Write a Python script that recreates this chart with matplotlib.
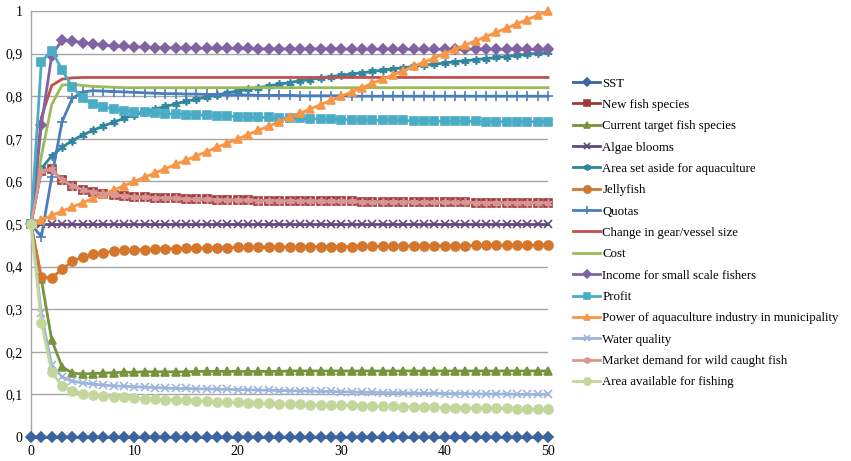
import numpy as np
import matplotlib
matplotlib.use('Agg')
import matplotlib.pyplot as plt
from matplotlib.ticker import FuncFormatter

# time steps
steps = list(range(51))

sst = [0.0] * 51
algae_blooms = [0.5] * 51

new_fish = [0.500, 0.625, 0.628, 0.603, 0.590, 0.580, 0.575, 0.571, 0.568, 0.566,
            0.564, 0.563, 0.562, 0.561, 0.560, 0.559, 0.558, 0.558, 0.557, 0.557,
            0.556, 0.556, 0.555, 0.555, 0.555, 0.554, 0.554, 0.554, 0.553, 0.553,
            0.553, 0.553, 0.552, 0.552, 0.552, 0.552, 0.552, 0.551, 0.551, 0.551,
            0.551, 0.551, 0.551, 0.550, 0.550, 0.550, 0.550, 0.550, 0.550, 0.550,
            0.550]
market_demand = list(new_fish)

current_target = [0.500, 0.370, 0.228, 0.165, 0.150, 0.148, 0.149, 0.150, 0.151, 0.152,
                  0.152, 0.153, 0.153, 0.153, 0.153, 0.153, 0.154, 0.154, 0.154, 0.154,
                  0.154, 0.154, 0.154, 0.154, 0.154, 0.155, 0.155, 0.155, 0.155, 0.155,
                  0.155, 0.155, 0.155, 0.155, 0.155, 0.155, 0.155, 0.155, 0.155, 0.155,
                  0.155, 0.155, 0.155, 0.155, 0.155, 0.155, 0.155, 0.155, 0.155, 0.155,
                  0.155]

area_aside = [0.500, 0.630, 0.660, 0.680, 0.696, 0.709, 0.720, 0.730, 0.739, 0.748,
              0.756, 0.763, 0.770, 0.776, 0.782, 0.788, 0.793, 0.798, 0.803, 0.808,
              0.812, 0.816, 0.820, 0.824, 0.828, 0.832, 0.836, 0.839, 0.843, 0.846,
              0.849, 0.852, 0.855, 0.858, 0.861, 0.864, 0.867, 0.870, 0.873, 0.875,
              0.878, 0.881, 0.883, 0.886, 0.888, 0.891, 0.893, 0.896, 0.898, 0.901,
              0.903]

jellyfish = [0.500, 0.376, 0.373, 0.394, 0.412, 0.423, 0.429, 0.433, 0.436, 0.438,
             0.439, 0.440, 0.441, 0.442, 0.442, 0.443, 0.443, 0.444, 0.444, 0.444,
             0.445, 0.445, 0.445, 0.446, 0.446, 0.446, 0.446, 0.447, 0.447, 0.447,
             0.447, 0.447, 0.448, 0.448, 0.448, 0.448, 0.448, 0.449, 0.449, 0.449,
             0.449, 0.449, 0.449, 0.450, 0.450, 0.450, 0.450, 0.450, 0.450, 0.450,
             0.450]

quotas = [0.500, 0.470, 0.610, 0.740, 0.795, 0.810, 0.813, 0.812, 0.811, 0.810,
          0.809, 0.808, 0.807, 0.806, 0.806, 0.805, 0.805, 0.804, 0.804, 0.803,
          0.803, 0.803, 0.802, 0.802, 0.802, 0.802, 0.801, 0.801, 0.801, 0.801,
          0.801, 0.800, 0.800, 0.800, 0.800, 0.800, 0.800, 0.800, 0.800, 0.800,
          0.800, 0.800, 0.800, 0.800, 0.800, 0.800, 0.800, 0.800, 0.800, 0.800,
          0.800]

gear_size = [0.500, 0.750, 0.825, 0.840, 0.843, 0.844, 0.844, 0.844, 0.844, 0.844,
             0.844, 0.844, 0.844, 0.844, 0.844, 0.844, 0.844, 0.844, 0.844, 0.844,
             0.844, 0.844, 0.844, 0.844, 0.844, 0.844, 0.844, 0.844, 0.844, 0.844,
             0.844, 0.844, 0.844, 0.844, 0.844, 0.844, 0.844, 0.844, 0.844, 0.844,
             0.844, 0.844, 0.844, 0.844, 0.844, 0.844, 0.844, 0.844, 0.844, 0.844,
             0.844]

cost = [0.500, 0.660, 0.780, 0.826, 0.828, 0.825, 0.823, 0.822, 0.821, 0.820,
        0.820, 0.820, 0.820, 0.820, 0.820, 0.820, 0.820, 0.820, 0.820, 0.820,
        0.820, 0.820, 0.820, 0.820, 0.820, 0.820, 0.820, 0.820, 0.820, 0.820,
        0.820, 0.820, 0.820, 0.820, 0.820, 0.820, 0.820, 0.820, 0.820, 0.820,
        0.820, 0.820, 0.820, 0.820, 0.820, 0.820, 0.820, 0.820, 0.820, 0.820,
        0.820]

income = [0.500, 0.732, 0.895, 0.932, 0.930, 0.925, 0.922, 0.920, 0.918, 0.917,
          0.916, 0.915, 0.914, 0.914, 0.913, 0.913, 0.913, 0.912, 0.912, 0.912,
          0.912, 0.912, 0.911, 0.911, 0.911, 0.911, 0.911, 0.911, 0.911, 0.911,
          0.911, 0.910, 0.910, 0.910, 0.910, 0.910, 0.910, 0.910, 0.910, 0.910,
          0.910, 0.910, 0.910, 0.910, 0.910, 0.910, 0.910, 0.910, 0.910, 0.910,
          0.910]

profit = [0.500, 0.881, 0.907, 0.862, 0.821, 0.796, 0.782, 0.775, 0.770, 0.766,
          0.763, 0.762, 0.760, 0.759, 0.758, 0.757, 0.756, 0.755, 0.754, 0.753,
          0.752, 0.751, 0.750, 0.750, 0.749, 0.748, 0.748, 0.747, 0.746, 0.746,
          0.745, 0.745, 0.744, 0.744, 0.743, 0.743, 0.743, 0.742, 0.742, 0.742,
          0.741, 0.741, 0.741, 0.741, 0.740, 0.740, 0.740, 0.740, 0.740, 0.740,
          0.740]

power = [0.50, 0.51, 0.52, 0.53, 0.54, 0.55, 0.56, 0.57, 0.58, 0.59,
         0.60, 0.61, 0.62, 0.63, 0.64, 0.65, 0.66, 0.67, 0.68, 0.69,
         0.70, 0.71, 0.72, 0.73, 0.74, 0.75, 0.76, 0.77, 0.78, 0.79,
         0.80, 0.81, 0.82, 0.83, 0.84, 0.85, 0.86, 0.87, 0.88, 0.89,
         0.90, 0.91, 0.92, 0.93, 0.94, 0.95, 0.96, 0.97, 0.98, 0.99,
         1.00]

water_quality = [0.500, 0.290, 0.169, 0.141, 0.131, 0.127, 0.124, 0.122, 0.120, 0.119,
                 0.118, 0.117, 0.116, 0.115, 0.114, 0.114, 0.113, 0.113, 0.112, 0.112,
                 0.111, 0.111, 0.110, 0.110, 0.109, 0.109, 0.108, 0.108, 0.107, 0.107,
                 0.106, 0.106, 0.105, 0.105, 0.104, 0.104, 0.104, 0.103, 0.103, 0.103,
                 0.102, 0.102, 0.102, 0.101, 0.101, 0.101, 0.101, 0.100, 0.100, 0.100,
                 0.100]

area_fishing = [0.500, 0.268, 0.153, 0.120, 0.108, 0.102, 0.099, 0.097, 0.095, 0.093,
                0.092, 0.090, 0.089, 0.088, 0.087, 0.086, 0.085, 0.084, 0.083, 0.082,
                0.081, 0.080, 0.079, 0.079, 0.078, 0.077, 0.077, 0.076, 0.075, 0.075,
                0.074, 0.074, 0.073, 0.073, 0.072, 0.072, 0.071, 0.071, 0.070, 0.070,
                0.069, 0.069, 0.068, 0.068, 0.067, 0.067, 0.067, 0.066, 0.066, 0.065,
                0.065]

labels = ['SST', 'New fish species', 'Current target fish species', 'Algae blooms',
          'Area set aside for aquaculture', 'Jellyfish', 'Quotas',
          'Change in gear/vessel size', 'Cost', 'Income for small scale fishers',
          'Profit', 'Power of aquaculture industry in municipality', 'Water quality',
          'Market demand for wild caught fish', 'Area available for fishing']
series = [sst, new_fish, current_target, algae_blooms, area_aside, jellyfish, quotas,
          gear_size, cost, income, profit, power, water_quality, market_demand,
          area_fishing]
colours = ['#3B64A0', '#9E3B38', '#77933C', '#604A7B', '#31859C', '#D4772C', '#4A7EBB',
           '#C0504D', '#9BBB59', '#8064A2', '#4BACC6', '#F79646', '#9DB5DB', '#D99694',
           '#C3D69B']
markers = ['D', 's', '^', 'x', (6, 2, 0), 'o', '+', None, None, 'D', 's', '^', 'x',
           (6, 2, 0), 'o']
msizes = [5, 5.5, 6, 6, 6, 6.5, 7, 0, 0, 5, 5.5, 6, 6, 6, 6.5]

plt.rcParams['font.family'] = 'Liberation Serif'

fig = plt.figure(figsize=(8.51, 4.61), dpi=100)
ax = fig.add_axes([31 / 851, 1 - 437 / 461, (548 - 31) / 851, (437 - 11) / 461])

for i in range(len(series)):
    ax.plot(steps, series[i], color=colours[i], lw=2, marker=markers[i],
            ms=msizes[i], mew=1.2, mfc=colours[i], mec=colours[i],
            label=labels[i], clip_on=False, zorder=3 + i)

ax.set_xlim(0, 50)
ax.set_ylim(0, 1)
ax.set_xticks(range(0, 51, 10))
ax.set_yticks(np.arange(0, 1.01, 0.1))
ax.yaxis.set_major_formatter(FuncFormatter(lambda v, p: ('%g' % round(v, 1)).replace('.', ',')))
ax.grid(axis='y', color='#A6A6A6', lw=1)
for s in ['top', 'right', 'bottom']:
    ax.spines[s].set_visible(False)
ax.spines['left'].set_color('#A6A6A6')
ax.spines['left'].set_linewidth(1)
ax.tick_params(length=0, labelsize=10, pad=6)

fig.legend(loc='center left', bbox_to_anchor=(568 / 851, 1 - 233 / 461), frameon=False,
           fontsize=9.3, handlelength=2.1, handletextpad=0.15, labelspacing=0.72,
           markerscale=0.8, borderaxespad=0)

fig.savefig('out.png', dpi=100)
